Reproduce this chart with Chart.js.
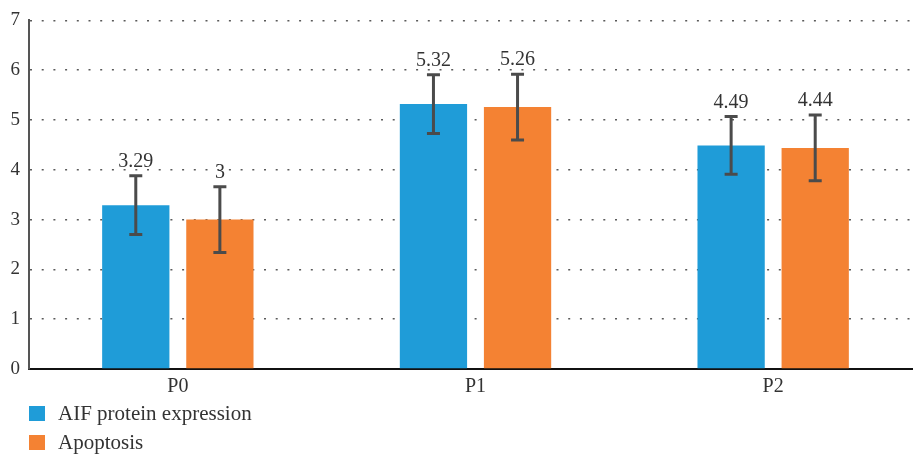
<!DOCTYPE html>
<html lang="en">
<head>
    <meta charset="UTF-8">
    <title>AIF protein expression and apoptosis</title>
    <style>
        body {
            margin: 0;
            padding: 0;
            background: #ffffff;
            overflow: hidden;
            font-family: "Liberation Serif", "Times New Roman", serif;
        }
        #wrap {
            position: relative;
            width: 925px;
            height: 458px;
        }
        #chartBox {
            position: absolute;
            left: 0;
            top: 0;
            width: 925px;
            height: 400px;
        }
        #legend {
            position: absolute;
            left: 29px;
            top: 399px;
            color: #333;
            font-size: 21px;
        }
        .item {
            display: flex;
            align-items: center;
            height: 29px;
        }
        .swatch {
            width: 16px;
            height: 15px;
            margin-right: 13px;
        }
    </style>
    <script src="https://cdn.jsdelivr.net/npm/chart.js"></script>
</head>
<body>
<div id="wrap">
    <div id="chartBox"><canvas id="chart"></canvas></div>
    <div id="legend"></div>
</div>

<script>
    // datos
    const categories = ['P0', 'P1', 'P2'];
    const seriesNames = ['AIF protein expression', 'Apoptosis'];
    const aifValues = [3.29, 5.32, 4.49];
    const apoptosisValues = [3, 5.26, 4.44];
    const aifErrors = [0.59, 0.59, 0.58];
    const apoptosisErrors = [0.66, 0.66, 0.66];
    const yTicks = [0, 1, 2, 3, 4, 5, 6, 7];

    const colors = ['#1f9cd8', '#f48233'];
    const errors = [aifErrors, apoptosisErrors];
    const serif = '"Liberation Serif", "Times New Roman", serif';

    // barras de error y etiquetas de valor
    const errorBars = {
        id: 'errorBars',
        afterDatasetsDraw(chart) {
            const ctx = chart.ctx;
            const y = chart.scales.y;
            ctx.save();
            chart.data.datasets.forEach((ds, i) => {
                const meta = chart.getDatasetMeta(i);
                meta.data.forEach((bar, j) => {
                    const v = ds.data[j];
                    const e = errors[i][j];
                    const top = y.getPixelForValue(v + e);
                    const bottom = y.getPixelForValue(v - e);
                    ctx.strokeStyle = '#4b4b4b';
                    ctx.lineWidth = 3;
                    ctx.beginPath();
                    ctx.moveTo(bar.x, top);
                    ctx.lineTo(bar.x, bottom);
                    ctx.moveTo(bar.x - 6.5, top);
                    ctx.lineTo(bar.x + 6.5, top);
                    ctx.moveTo(bar.x - 6.5, bottom);
                    ctx.lineTo(bar.x + 6.5, bottom);
                    ctx.stroke();

                    ctx.fillStyle = '#333';
                    ctx.font = '20px ' + serif;
                    ctx.textAlign = 'center';
                    ctx.textBaseline = 'alphabetic';
                    ctx.fillText(String(v), bar.x, top - 9);
                });
            });
            ctx.restore();
        }
    };

    const ctx = document.getElementById('chart').getContext('2d');
    const chart = new Chart(ctx, {
        type: 'bar',
        data: {
            labels: categories,
            datasets: [
                { label: seriesNames[0], data: aifValues, backgroundColor: colors[0] },
                { label: seriesNames[1], data: apoptosisValues, backgroundColor: colors[1] }
            ]
        },
        options: {
            responsive: true,
            maintainAspectRatio: false,
            animation: false,
            layout: { padding: { top: 15, right: 3, left: 0, bottom: 0 } },
            datasets: {
                bar: { categoryPercentage: 0.565, barPercentage: 0.8 }
            },
            plugins: {
                legend: { display: false },
                tooltip: { enabled: false }
            },
            scales: {
                x: {
                    grid: { display: false, drawTicks: false },
                    border: { color: '#111', width: 2 },
                    ticks: {
                        color: '#333',
                        padding: 6,
                        font: { family: serif, size: 20 }
                    },
                    afterFit(scale) { scale.height = 31; }
                },
                y: {
                    min: 0,
                    max: 7,
                    afterBuildTicks(scale) {
                        scale.ticks = yTicks.map(v => ({ value: v }));
                    },
                    grid: {
                        color: '#5a5a5a',
                        lineWidth: 1.5,
                        drawTicks: false
                    },
                    border: { color: '#555', width: 2, dash: [2, 9.7] },
                    ticks: {
                        color: '#333',
                        padding: 9,
                        font: { family: serif, size: 19 }
                    },
                    afterFit(scale) { scale.width = 29; }
                }
            }
        },
        plugins: [errorBars]
    });

    // leyenda vertical abajo a la izquierda
    const legend = document.getElementById('legend');
    seriesNames.forEach((name, i) => {
        const item = document.createElement('div');
        item.className = 'item';
        item.innerHTML = '<span class="swatch" style="background:' + colors[i] + '"></span><span>' + name + '</span>';
        legend.appendChild(item);
    });
</script>
</body>
</html>
